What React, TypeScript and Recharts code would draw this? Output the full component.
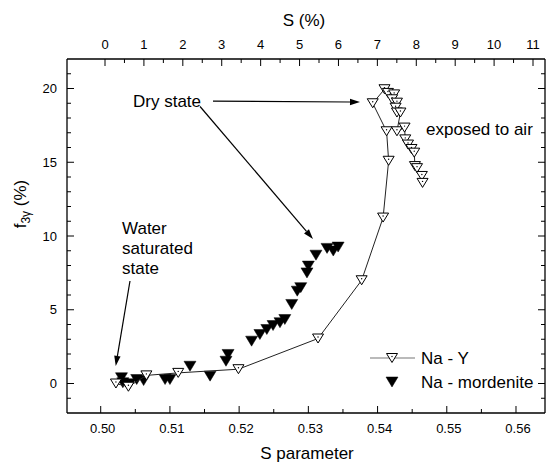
import React from 'react';
import { ComposedChart, Scatter, XAxis, YAxis, ReferenceLine, ReferenceDot, Legend } from 'recharts';

const FONT = '"Liberation Sans", Arial, sans-serif';

const naYS = [0.5022, 0.5040, 0.5066, 0.5112, 0.5199, 0.5314, 0.5377, 0.5408, 0.5416, 0.5413, 0.5393, 0.5410, 0.5415, 0.5424, 0.5421, 0.5428, 0.5426, 0.5428, 0.5433, 0.5428, 0.5439, 0.5440, 0.5444, 0.5449, 0.5453, 0.5454, 0.5457, 0.5464, 0.5465];
const naYF = [0.0, -0.22, 0.55, 0.72, 0.97, 3.05, 7.0, 11.25, 15.1, 17.1, 19.0, 19.95, 19.7, 19.6, 19.27, 19.04, 18.7, 18.37, 18.37, 17.1, 17.35, 16.55, 16.2, 15.9, 15.65, 14.74, 14.6, 14.07, 13.6];

const mordS = [0.5030, 0.5032, 0.5042, 0.5052, 0.5062, 0.5093, 0.5100, 0.5129, 0.5158, 0.5181, 0.5184, 0.5218, 0.5230, 0.5240, 0.5249, 0.5259, 0.5266, 0.5276, 0.5284, 0.5289, 0.5298, 0.5300, 0.5311, 0.5327, 0.5336, 0.5343];
const mordF = [0.39, 0.05, -0.02, 0.27, 0.2, 0.27, 0.27, 1.17, 0.5, 1.51, 1.97, 2.87, 3.32, 3.66, 3.93, 4.12, 4.34, 5.36, 6.26, 6.5, 7.5, 7.96, 8.7, 9.16, 8.98, 9.25];

const bottomTicks = [0.5, 0.505, 0.51, 0.515, 0.52, 0.525, 0.53, 0.535, 0.54, 0.545, 0.55, 0.555, 0.56];
const topTicks = [0, 0.5, 1, 1.5, 2, 2.5, 3, 3.5, 4, 4.5, 5, 5.5, 6, 6.5, 7, 7.5, 8, 8.5, 9, 9.5, 10, 10.5, 11];
const yTicks = [-1, 0, 1, 2, 3, 4, 5, 6, 7, 8, 9, 10, 11, 12, 13, 14, 15, 16, 17, 18, 19, 20, 21];

const xDomain = [0.49513, 0.56419];
const topDomain = [-0.9766, 11.308];
const yDomain = [-2, 22];

const arrows = [
  { from: [0.51622, 19.15], to: [0.53746, 19.08] },
  { from: [0.51435, 18.78], to: [0.53067, 9.8] },
  { from: [0.50423, 6.95], to: [0.50217, 1.19] },
];

const notes = [
  { text: 'Dry state', s: 0.50467, f: 19.15 },
  { text: 'exposed to air', s: 0.547, f: 17.25 },
  { text: 'Water', s: 0.50308, f: 10.54 },
  { text: 'saturated', s: 0.50308, f: 9.19 },
  { text: 'state', s: 0.50308, f: 7.83 },
];

const naY = naYS.map((s, i) => ({ s, f: naYF[i] }));
const mord = mordS.map((s, i) => ({ s, f: mordF[i] }));
// invisible helper so the secondary (top / right) axes get their ticks
const helper = topTicks.map((t, i) => ({ t, r: yTicks[i] }));

const isInt = (v: number, m: number) => Math.abs(v * m - Math.round(v * m)) < 1e-6;

const OpenTri = (p: any) => {
  const { cx, cy } = p;
  if (cx == null || cy == null) return null;
  return (
    <g>
      <polygon points={`${cx - 5.5},${cy - 4.5} ${cx + 5.5},${cy - 4.5} ${cx},${cy + 4.5}`} fill="#fff" stroke="#000" strokeWidth={1} />
      <circle cx={cx} cy={cy - 1.5} r={0.7} fill="#000" />
    </g>
  );
};

const FilledTri = (p: any) => {
  const { cx, cy } = p;
  if (cx == null || cy == null) return null;
  return <polygon points={`${cx - 6},${cy - 5} ${cx + 6},${cy - 5} ${cx},${cy + 5}`} fill="#000" stroke="#000" strokeWidth={0.5} />;
};

const BottomTick = (p: any) => {
  const { x, y, payload } = p;
  const v = payload.value;
  const major = isInt(v, 100);
  return (
    <g>
      <line x1={x} y1={y} x2={x} y2={y - (major ? 7 : 4)} stroke="#000" strokeWidth={1} />
      {major && (
        <text x={x + 2} y={y + 20} textAnchor="middle" fontSize={13} fontFamily={FONT} fill="#000">{v.toFixed(2)}</text>
      )}
    </g>
  );
};

const TopTick = (p: any) => {
  const { x, y, payload } = p;
  const v = payload.value;
  const major = isInt(v, 1);
  return (
    <g>
      <line x1={x} y1={y} x2={x} y2={y + (major ? 7 : 4)} stroke="#000" strokeWidth={1} />
      {major && (
        <text x={x} y={y - 10.5} textAnchor="middle" fontSize={13} fontFamily={FONT} fill="#000">{String(v)}</text>
      )}
    </g>
  );
};

const LeftTick = (p: any) => {
  const { x, y, payload } = p;
  const v = payload.value;
  const major = isInt(v / 5, 1);
  return (
    <g>
      <line x1={x} y1={y} x2={x + (major ? 7 : 4)} y2={y} stroke="#000" strokeWidth={1} />
      {major && (
        <text x={x - 10} y={y} dy="0.36em" textAnchor="end" fontSize={13} fontFamily={FONT} fill="#000">{String(v)}</text>
      )}
    </g>
  );
};

const RightTick = (p: any) => {
  const { x, y, payload } = p;
  const v = payload.value;
  const major = isInt(v / 5, 1);
  return <line x1={x} y1={y} x2={x - (major ? 7 : 4)} y2={y} stroke="#000" strokeWidth={1} />;
};

const Arrow = (p: any) => {
  const { x1, y1, x2, y2 } = p;
  if ([x1, y1, x2, y2].some((v) => v == null)) return null;
  const ang = Math.atan2(y2 - y1, x2 - x1);
  const L = 10;
  const W = 3.2;
  const bx = x2 - L * Math.cos(ang);
  const by = y2 - L * Math.sin(ang);
  const px = -Math.sin(ang) * W;
  const py = Math.cos(ang) * W;
  return (
    <g>
      <line x1={x1} y1={y1} x2={bx} y2={by} stroke="#000" strokeWidth={1.2} />
      <polygon points={`${x2},${y2} ${bx + px},${by + py} ${bx - px},${by - py}`} fill="#000" />
    </g>
  );
};

const LegendBox = () => (
  <svg width={180} height={50} style={{ display: 'block' }}>
    <line x1={4} y1={13} x2={49} y2={13} stroke="#777" strokeWidth={1.2} />
    <OpenTri cx={26} cy={13} />
    <text x={55} y={13} dy="0.36em" fontSize={17} fontFamily={FONT} fill="#000">Na - Y</text>
    <FilledTri cx={26} cy={37} />
    <text x={55} y={37} dy="0.36em" fontSize={17} fontFamily={FONT} fill="#000">Na - mordenite</text>
  </svg>
);

export default function App() {
  return (
    <div style={{ width: 548, height: 465 }}>
      <style>{'body{margin:0}'}</style>
      <ComposedChart width={548} height={465} margin={{ top: 0, right: 0, bottom: 0, left: 0 }}>
        <XAxis
          dataKey="s"
          type="number"
          domain={xDomain}
          allowDataOverflow
          ticks={bottomTicks}
          interval={0}
          height={52}
          tickSize={0}
          tickMargin={0}
          tickLine={false}
          axisLine={{ stroke: '#000', strokeWidth: 1.3 }}
          tick={<BottomTick />}
          label={() => (
            <text x={307} y={458.5} textAnchor="middle" fontSize={17} fontFamily={FONT} fill="#000">S parameter</text>
          )}
        />
        <XAxis
          xAxisId="top"
          dataKey="t"
          orientation="top"
          type="number"
          domain={topDomain}
          allowDataOverflow
          ticks={topTicks}
          interval={0}
          height={59}
          tickSize={0}
          tickMargin={0}
          tickLine={false}
          axisLine={{ stroke: '#000', strokeWidth: 1.3 }}
          tick={<TopTick />}
          label={() => (
            <text x={304} y={25.5} textAnchor="middle" fontSize={17} fontFamily={FONT} fill="#000">S (%)</text>
          )}
        />
        <YAxis
          dataKey="f"
          type="number"
          domain={yDomain}
          allowDataOverflow
          ticks={yTicks}
          interval={0}
          width={67}
          tickSize={0}
          tickMargin={0}
          tickLine={false}
          axisLine={{ stroke: '#000', strokeWidth: 1.3 }}
          tick={<LeftTick />}
          label={() => (
            <text transform="translate(26,204) rotate(-90)" textAnchor="middle" fontSize={17} fontFamily={FONT} fill="#000">
              <tspan>f</tspan>
              <tspan fontSize={12} dy={4}>3γ</tspan>
              <tspan dy={-4}> (%)</tspan>
            </text>
          )}
        />
        <YAxis
          yAxisId="right"
          dataKey="r"
          orientation="right"
          type="number"
          domain={yDomain}
          allowDataOverflow
          ticks={yTicks}
          interval={0}
          width={3}
          tickSize={0}
          tickMargin={0}
          tickLine={false}
          axisLine={{ stroke: '#000', strokeWidth: 1.3 }}
          tick={<RightTick />}
        />
        <Legend
          layout="horizontal"
          verticalAlign="middle"
          align="center"
          wrapperStyle={{ left: 366, top: 345, width: 180, height: 50 }}
          content={() => <LegendBox />}
        />
        {arrows.map((a, i) => (
          <ReferenceLine
            key={'a' + i}
            segment={[{ x: a.from[0], y: a.from[1] }, { x: a.to[0], y: a.to[1] }]}
            shape={(p: any) => <Arrow {...p} />}
          />
        ))}
        {notes.map((n, i) => (
          <ReferenceDot
            key={'n' + i}
            x={n.s}
            y={n.f}
            r={0}
            shape={(p: any) => (
              <text x={p.cx} y={p.cy} dy="0.36em" fontSize={17} fontFamily={FONT} fill="#000">{n.text}</text>
            )}
          />
        ))}
        <Scatter
          xAxisId="top"
          yAxisId="right"
          data={helper}
          shape={() => <g />}
          legendType="none"
          isAnimationActive={false}
        />
        <Scatter name="Na - mordenite" data={mord} shape={<FilledTri />} isAnimationActive={false} />
        <Scatter
          name="Na - Y"
          data={naY}
          shape={<OpenTri />}
          line={{ stroke: '#222', strokeWidth: 1 }}
          lineJointType="linear"
          isAnimationActive={false}
        />
      </ComposedChart>
    </div>
  );
}
